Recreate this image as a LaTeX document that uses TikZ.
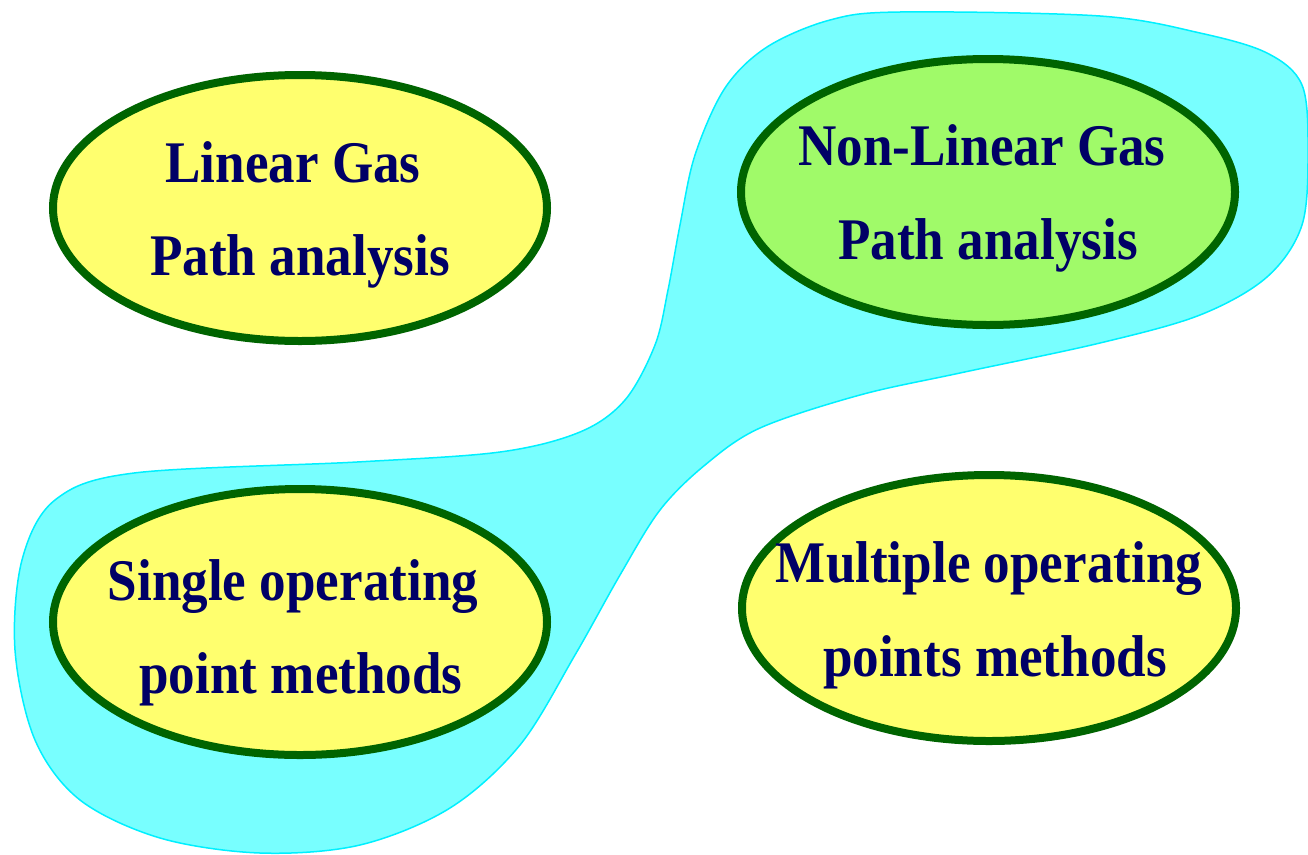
\documentclass[tikz,border=0pt]{standalone}
\usepackage{fontspec}
\setmainfont{Liberation Serif}[FakeStretch=0.9]
\usetikzlibrary{shapes.geometric}
\definecolor{navytext}{RGB}{0,0,102}
\definecolor{ringgreen}{RGB}{0,100,0}
\definecolor{lightyel}{RGB}{255,255,110}
\definecolor{yelcyan}{RGB}{160,250,105}
\definecolor{blobcyan}{RGB}{120,255,255}
\definecolor{blobline}{RGB}{0,240,255}
\tikzset{
  oval/.style={ellipse, draw=ringgreen, line width=8pt, fill=lightyel,
    minimum width=494pt, minimum height=266pt, inner sep=0pt},
  label/.style={anchor=base, text=navytext, inner sep=0pt,
    font=\fontsize{59}{62}\selectfont\bfseries},
}
\begin{document}
\begin{tikzpicture}[x=1pt,y=-1pt]
\useasboundingbox (0,0) rectangle (1308,854);
% cyan blob
\draw[blobline, line width=1.5pt, fill=blobcyan] plot[smooth cycle, tension=0.55] coordinates {
 (900,12) (1100,16) (1200,33) (1267,53) (1302,85) (1308,150) (1302,225)
 (1267,277) (1200,315) (1100,343) (960,373) (860,395) (760,428) (705,465)
 (660,510) (620,575) (575,655) (520,745) (450,808) (360,845) (260,853)
 (160,838) (80,800) (35,740) (15,650) (22,560) (55,500) (134,473)
 (357,462) (500,452) (580,432) (625,400) (655,345) (668,290) (680,225)
 (695,155) (725,88) (767,47) (830,20)};
% ellipses
\node[oval] (lin) at (300,208) {};
\node[oval, fill=yelcyan] (nonlin) at (988,192) {};
\node[oval] (single) at (300,622) {};
\node[oval] (multi) at (989,608) {};
% texts
\node[label] (lin1) at (293,182) {Linear Gas};
\node[label] (lin2) at (300,275) {Path analysis};
\node[label] (nl1) at (982,165) {Non-Linear Gas};
\node[label] (nl2) at (988,259) {Path analysis};
\node[label] (s1) at (293,600) {Single operating};
\node[label] (s2) at (301,693) {point methods};
\node[label] (m1) at (989,582) {Multiple operating};
\node[label] (m2) at (995,676) {points methods};
\end{tikzpicture}
\end{document}
